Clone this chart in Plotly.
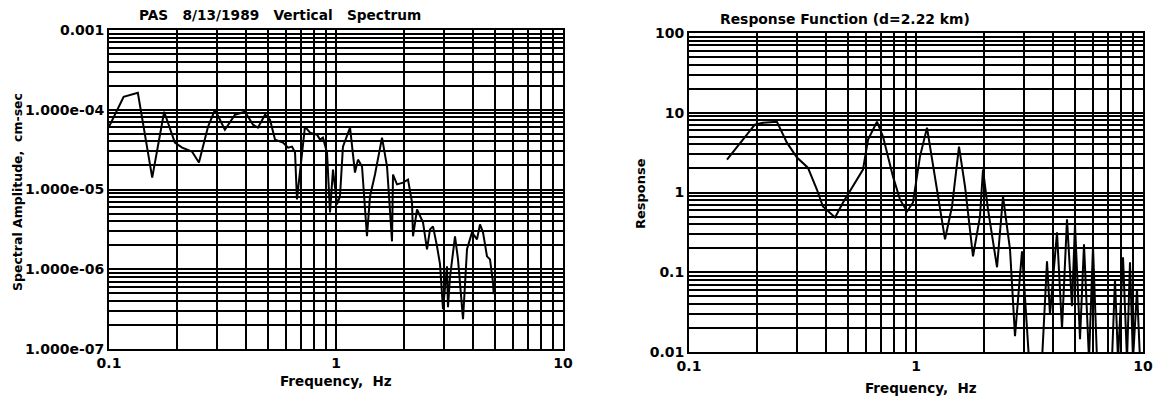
import numpy as np
import plotly.graph_objects as go

# ---- data ----
spec_freq = [0.100, 0.116, 0.134, 0.155, 0.175, 0.195, 0.210, 0.232, 0.249, 0.273,
             0.293, 0.324, 0.359, 0.397, 0.431, 0.453, 0.487, 0.512, 0.539, 0.584,
             0.615, 0.640, 0.660, 0.673, 0.730, 0.768, 0.825, 0.850, 0.876, 0.913,
             0.941, 0.970, 1.010, 1.041, 1.073, 1.153, 1.212, 1.250, 1.302, 1.369,
             1.412, 1.485, 1.595, 1.678, 1.765, 1.783, 1.857, 1.973, 2.076, 2.162,
             2.184, 2.275, 2.417, 2.517, 2.595, 2.675, 2.786, 2.872, 2.961, 3.083,
             3.114, 3.178, 3.344, 3.447, 3.627, 3.777, 3.973, 4.180, 4.309, 4.442,
             4.626, 4.769, 4.915, 4.950]
spec_amp = [6.13e-5, 1.45e-4, 1.63e-4, 1.41e-5, 9.44e-5, 3.87e-5, 3.35e-5, 2.99e-5, 2.18e-5, 6.13e-5,
            1.00e-4, 5.62e-5, 8.66e-5, 9.44e-5, 6.49e-5, 5.96e-5, 8.66e-5, 7.50e-5, 4.22e-5, 3.87e-5,
            3.35e-5, 3.45e-5, 2.90e-5, 7.50e-6, 6.13e-5, 5.16e-5, 4.87e-5, 4.22e-5, 4.47e-5, 2.90e-5,
            5.16e-6, 1.78e-5, 6.49e-6, 8.18e-6, 3.45e-5, 5.96e-5, 1.63e-5, 2.37e-5, 1.94e-5, 2.59e-6,
            8.18e-6, 1.54e-5, 4.47e-5, 1.94e-5, 2.24e-6, 1.54e-5, 1.16e-5, 1.22e-5, 1.33e-5, 6.88e-6,
            2.59e-6, 5.62e-6, 3.87e-6, 1.78e-6, 3.16e-6, 3.45e-6, 1.94e-6, 1.16e-6, 3.16e-7, 1.09e-6,
            3.35e-7, 7.94e-7, 2.59e-6, 1.33e-6, 2.37e-7, 1.78e-6, 2.90e-6, 2.37e-6, 3.65e-6, 2.90e-6,
            1.45e-6, 1.33e-6, 6.88e-7, 4.87e-7]

resp_freq = [0.147, 0.168, 0.195, 0.212, 0.244, 0.270, 0.299, 0.334, 0.366, 0.389,
             0.440, 0.477, 0.528, 0.584, 0.615, 0.673, 0.716, 0.792, 0.850, 0.913,
             0.970, 1.041, 1.118, 1.212, 1.342, 1.441, 1.547, 1.644, 1.783, 1.914,
             1.973, 2.076, 2.275, 2.417, 2.595, 2.730, 2.931, 3.147, 3.591, 3.777,
             3.893, 4.180, 4.397, 4.626, 4.867, 5.017, 5.279, 5.497, 5.783, 6.022,
             6.272, 7.301, 7.527, 7.762, 8.165, 8.503, 8.764, 9.035, 9.410, 9.701]
resp_val = [2.59, 4.22, 7.08, 7.50, 7.72, 4.22, 2.74, 2.05, 1.09, 0.668,
            0.487, 0.750, 1.19, 1.94, 4.60, 7.72, 5.01, 1.58, 0.818, 0.579,
            0.750, 2.82, 6.49, 1.58, 0.259, 0.668, 3.76, 1.19, 0.158, 0.501,
            1.94, 0.613, 0.1155, 0.891, 0.194, 0.0158, 0.183, 0.008, 0.008, 0.137,
            0.0299, 0.316, 0.0194, 0.460, 0.0376, 0.398, 0.0145, 0.224, 0.008, 0.211,
            0.008, 0.008, 0.0818, 0.008, 0.154, 0.008, 0.133, 0.008, 0.0613, 0.008]

x_tickvals = [0.1, 1, 10]
x_ticktext = ["0.1", "1", "10"]
left_tickvals = [1e-7, 1e-6, 1e-5, 1e-4, 1e-3]
left_ticktext = ["1.000e-07", "1.000e-06", "1.000e-05", "1.000e-04", "0.001"]
right_tickvals = [0.01, 0.1, 1, 10, 100]
right_ticktext = ["0.01", "0.1", "1", "10", "100"]

W, H = 1156, 400
FONT = "DejaVu Sans"


def minor_vals(lo, hi):
    return [m * 10.0 ** k for k in range(lo, hi) for m in range(2, 10)]


def px(x):
    return x / W


def py(y):
    return 1 - y / H


fig = go.Figure()
fig.add_trace(go.Scatter(x=spec_freq, y=spec_amp, mode="lines",
                         line=dict(color="black", width=2),
                         xaxis="x", yaxis="y", showlegend=False))
fig.add_trace(go.Scatter(x=resp_freq, y=resp_val, mode="lines",
                         line=dict(color="black", width=2),
                         xaxis="x2", yaxis="y2", showlegend=False))

grid = dict(color="black", width=1.5)
tickfont = dict(family=FONT, size=14, color="black", weight="bold")


def xaxis(domain, anchor):
    return dict(type="log", range=[-1, 1], domain=domain, anchor=anchor,
                tickvals=x_tickvals, ticktext=x_ticktext, tickfont=tickfont,
                ticks="", showline=True, linecolor="black", linewidth=2, mirror=True,
                showgrid=True, gridcolor=grid["color"], gridwidth=grid["width"],
                minor=dict(tickvals=minor_vals(-1, 1), showgrid=True,
                           gridcolor=grid["color"], gridwidth=grid["width"], ticks=""),
                zeroline=False, automargin=False, fixedrange=True)


def yaxis(domain, anchor, rng, tv, tt, lo, hi):
    return dict(type="log", range=rng, domain=domain, anchor=anchor,
                tickvals=tv, ticktext=tt, tickfont=tickfont,
                ticks="", showline=True, linecolor="black", linewidth=2, mirror=True,
                showgrid=True, gridcolor=grid["color"], gridwidth=grid["width"],
                minor=dict(tickvals=minor_vals(lo, hi), showgrid=True,
                           gridcolor=grid["color"], gridwidth=grid["width"], ticks=""),
                zeroline=False, automargin=False, fixedrange=True)


fig.update_layout(
    width=W, height=H,
    margin=dict(l=0, r=0, t=0, b=0),
    paper_bgcolor="white", plot_bgcolor="white",
    font=dict(family=FONT, color="black"),
    xaxis=xaxis([px(109), px(563)], "y"),
    yaxis=yaxis([py(349), py(30)], "x", [-7, -3], left_tickvals, left_ticktext, -7, -3),
    xaxis2=xaxis([px(689), px(1143)], "y2"),
    yaxis2=yaxis([py(352), py(33)], "x2", [-2, 2], right_tickvals, right_ticktext, -2, 2),
)

nb = "\u00a0"
ann = [
    ("PAS" + nb * 3 + "8/13/1989" + nb * 3 + "Vertical" + nb * 3 + "Spectrum", 280, 15, 13.7, 0),
    ("Frequency," + nb * 2 + "Hz", 336, 381, 13.5, 0),
    ("Spectral Amplitude," + nb * 2 + "cm-sec", 17, 192, 12.5, -90),
    ("Response Function (d=2.22 km)", 845, 19, 13.9, 0),
    ("Frequency," + nb * 2 + "Hz", 921, 388, 13.5, 0),
    ("Response", 640, 194, 13, -90),
]
for text, x, y, size, ang in ann:
    fig.add_annotation(text=text, x=px(x), y=py(y), xref="paper", yref="paper",
                       xanchor="center", yanchor="middle", showarrow=False,
                       textangle=ang,
                       font=dict(family=FONT, size=size, color="black", weight="bold"))

fig.write_html("out.html")
